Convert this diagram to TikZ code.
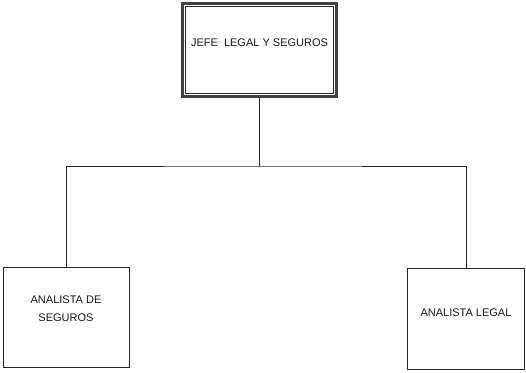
\documentclass[tikz,border=0pt]{standalone}
\usepackage{fontspec}
\setmainfont{Liberation Sans}
\begin{document}
\begin{tikzpicture}[x=1pt,y=-1pt,
  box/.style={draw=black!85, rectangle, line width=1pt, inner sep=0pt},
  lbl/.style={align=center, font=\fontsize{11}{18}\selectfont, inner sep=0pt, text=black!90},
  conn/.style={draw=black!85, line width=1pt}]
\useasboundingbox (0,0) rectangle (526,372);
\node[box, line width=2.6pt, minimum width=154pt, minimum height=93pt, draw=black!75] (jefe) at (259.5,50) {};
\draw[line width=0.8pt, black!85] ([xshift=4pt,yshift=-4pt]jefe.north west) rectangle ([xshift=-4pt,yshift=4pt]jefe.south east);
\node[lbl] (jefetxt) at ([yshift=7pt]jefe.center) {JEFE\ \ LEGAL Y SEGUROS};
\node[box, minimum width=126pt, minimum height=100pt] (seg) at (66,317) {};
\node[lbl] (segtxt) at ([yshift=8pt]seg.center) {ANALISTA DE\\SEGUROS};
\node[box, minimum width=117pt, minimum height=101pt] (legal) at (466,319) {};
\node[lbl] (legaltxt) at ([yshift=6pt]legal.center) {ANALISTA LEGAL};
\coordinate (bus) at (jefe.south |- 0,166);
\draw[conn] (jefe.south) -- (bus);
\draw[conn] (seg.north) |- (bus) -| (legal.north);
\end{tikzpicture}
\end{document}
